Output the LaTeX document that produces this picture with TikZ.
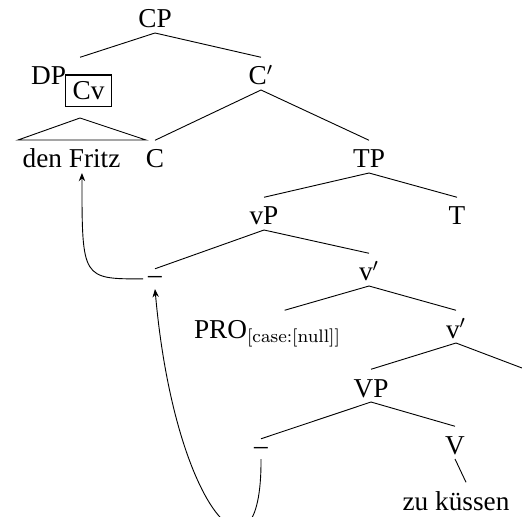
\documentclass[12pt,tikz,border=0pt]{standalone}
\usepackage{fontspec}
\setmainfont{Liberation Serif}
\usepackage{tikz}
\usetikzlibrary{arrows.meta}

\begin{document}
\begin{tikzpicture}[
  x=0.44pt, y=-0.44pt,
  cat/.style={anchor=base, inner sep=2pt, text height=10pt, text depth=0pt},
  trace/.style={anchor=base, inner sep=2pt, text height=4.5pt, text depth=0pt},
  feat/.style={draw, semithick, anchor=base, inner sep=3pt, text height=8pt, text depth=0pt},
  arrow/.style={-{Stealth[length=3.6pt, width=2.8pt]}}
]
\useasboundingbox (0,0) rectangle (522,516);

% CP layer
\node[cat] (cp) at (155,28) {CP};
\node[cat] (dp) at (48.5,85) {DP};
\node[feat] (cv) at (88.5,100) {Cv};
\node[cat] (cbar) at (261,85) {C$'$};
\node[cat] (fritz) at (71.5,168) {den Fritz};
\node[cat] (c) at (155,168) {C};

% TP and vP
\node[cat] (tp) at (369,168) {TP};
\node[cat] (vp) at (264,225) {vP};
\node[cat] (t) at (457,225) {T};
\node[trace] (gap1) at (155,284) {--};
\node[cat] (vbar1) at (369,281) {v$'$};
\node[cat, anchor=base west] (pro) at (189,338) {PRO\textsubscript{\fontfamily{lmr}\selectfont [case:[null]]}};
\node[cat] (vbar2) at (456,338) {v$'$};

% VP
\node[cat] (vpp) at (371,397) {VP};
\node[trace] (gap2) at (261,454) {--};
\node[cat] (v) at (455,454) {V};
\node[cat] (kiss) at (456,510) {zu k\"ussen};
\coordinate (vbar2r) at (522,368);

% Branches
\draw (cp.south) -- ([xshift=13.9pt]dp.north);
\draw (cp.south) -- (cbar.north);
\draw (80,118) -- (18,140) -- (146,140) -- cycle;
\draw (cbar.south) -- (c.north);
\draw (cbar.south) -- (tp.north);
\draw (tp.south) -- (vp.north);
\draw (tp.south) -- (t.north);
\draw (vp.south) -- (gap1.north);
\draw (vp.south) -- (vbar1.north);
\draw (vbar1.south) -- ([xshift=7.5pt]pro.north);
\draw (vbar1.south) -- (vbar2.north);
\draw (vbar2.south) -- (vpp.north);
\draw (vbar2.south) -- (vbar2r);
\draw (vpp.south) -- (gap2.north);
\draw (vpp.south) -- (v.north);
\draw (v.south) -- ([xshift=4.4pt]kiss.north);

% Movement
\draw[arrow] (gap1.west) .. controls (82,279) and (82,279) .. ([xshift=4.6pt]fritz.south);
\draw[arrow] (gap2.south) .. controls (262,600) and (175,515) .. (gap1.south);

\end{tikzpicture}
\end{document}
